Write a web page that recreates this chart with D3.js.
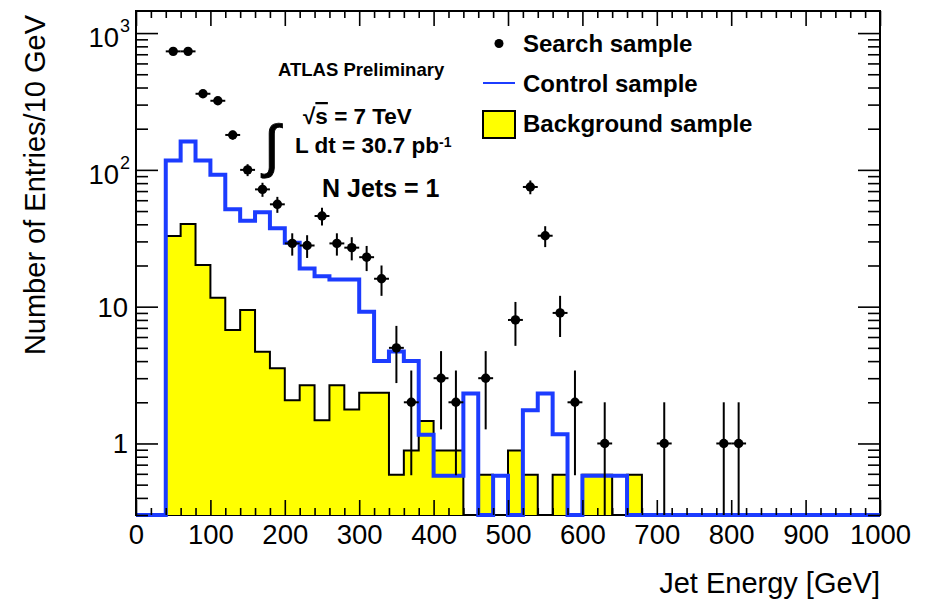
<!DOCTYPE html>
<html>
<head>
<meta charset="utf-8">
<script src="https://cdn.jsdelivr.net/npm/d3@7"></script>
<style>
  body { margin: 0; background: #fff; }
  text { font-family: "Liberation Sans", Arial, Helvetica, sans-serif; fill: #000; }
</style>
</head>
<body>
<svg id="chart" width="932" height="603"></svg>
<script>
// Lower edges (GeV) of the 20 GeV histogram bins that hold entries
const binLow = [40, 60, 80, 100, 120, 140, 160, 180, 200, 220, 240, 260, 280, 300, 320, 340,
                360, 380, 400, 420, 440, 460, 480, 500, 520, 540, 560, 580, 600, 620, 640, 660];
const binWidth = 20;

// Control sample (normalised), entries per bin
const controlSample = [117, 161, 117, 92, 51.5, 42.5, 49, 37.4, 29.3, 19, 16.7, 15.8, 15.8, 9.2, 4.0, 4.7,
                       4.0, 1.16, 0.58, 0.58, 2.32, 0, 0.58, 0, 1.75, 2.32, 1.17, 0, 0.58, 0.58, 0.58, 0];

// Background sample (normalised), entries per bin
const backgroundSample = [32.9, 40.2, 20.2, 11.6, 6.74, 9.44, 4.68, 3.54, 2.07, 2.67, 1.48, 2.67, 1.77, 2.35, 2.35, 0.59,
                          0.89, 1.46, 0.89, 0.89, 0, 0.59, 0, 0.89, 0.59, 0, 0.59, 0, 0.59, 0.59, 0, 0.59];

// Search sample: bin centres (GeV) and raw counts
const searchEnergy = [50, 70, 90, 110, 130, 150, 170, 190, 210, 230, 250, 270, 290, 310, 330, 350,
                      370, 410, 430, 470, 510, 530, 550, 570, 590, 630, 710, 790, 810];
const searchCount  = [735, 735, 360, 320, 180, 100, 72, 56, 29, 28, 46, 29, 27, 23, 16, 5,
                      2, 3, 2, 3, 8, 75, 33, 9, 2, 1, 1, 1, 1];

// Axis ticks
const xTicks = [0, 100, 200, 300, 400, 500, 600, 700, 800, 900, 1000];
const yTicks = [1, 10, 100, 1000];
const yTickBase = ["1", "10", "10", "10"];
const yTickExp  = ["", "", "2", "3"];

const plot = { left: 136, right: 880, top: 11, bottom: 515 };
const xDomain = [0, 1000];
const yDomain = [0.3, 1450];

const svg = d3.select("#chart");
const x = d3.scaleLinear().domain(xDomain).range([plot.left, plot.right]);
const y = d3.scaleLog().domain(yDomain).range([plot.bottom, plot.top]);
const yc = v => y(Math.max(v, yDomain[0]));

const blue = "#1c3cff";

// build step outline covering the whole axis range
function stepPoints(values) {
  const pts = [[xDomain[0], 0], [binLow[0], 0]];
  values.forEach((v, i) => {
    pts.push([binLow[i], v]);
    pts.push([binLow[i] + binWidth, v]);
  });
  const end = binLow[binLow.length - 1] + binWidth;
  pts.push([end, 0]);
  pts.push([xDomain[1], 0]);
  return pts;
}

// frame
svg.append("rect")
  .attr("x", plot.left).attr("y", plot.top)
  .attr("width", plot.right - plot.left).attr("height", plot.bottom - plot.top)
  .attr("fill", "none").attr("stroke", "#000").attr("stroke-width", 2);

// background sample: yellow filled histogram with black outline
const bgPts = stepPoints(backgroundSample);
svg.append("path")
  .attr("d", d3.area().x(d => x(d[0])).y0(y(yDomain[0])).y1(d => yc(d[1]))(bgPts))
  .attr("fill", "#ffff00").attr("stroke", "none");
svg.append("path")
  .attr("d", d3.line().x(d => x(d[0])).y(d => yc(d[1]))(bgPts))
  .attr("fill", "none").attr("stroke", "#000").attr("stroke-width", 2);

// control sample: thick blue step line
svg.append("path")
  .attr("d", d3.line().x(d => x(d[0])).y(d => yc(d[1]))(stepPoints(controlSample)))
  .attr("fill", "none").attr("stroke", blue).attr("stroke-width", 4)
  .attr("stroke-linejoin", "miter");

// axes with inward ticks on all four sides
const minorX = d3.range(0, 1001, 20).filter(v => v % 100 !== 0);
const minorY = [];
[0.1, 1, 10, 100, 1000].forEach(d => { for (let k = 2; k <= 9; k++) { const v = d * k; if (v >= yDomain[0] && v <= yDomain[1]) minorY.push(v); } });

function styleAxis(g) {
  g.select(".domain").remove();
  g.selectAll(".tick line").attr("stroke", "#000").attr("stroke-width", 1.6);
}

svg.append("g").attr("transform", `translate(0,${plot.bottom})`)
  .call(d3.axisBottom(x).tickValues(xTicks).tickSize(-15).tickPadding(9).tickFormat(d3.format("d")))
  .call(styleAxis)
  .selectAll("text").attr("font-size", 27.5).attr("font-family", "Liberation Sans, Arial, sans-serif");
svg.append("g").attr("transform", `translate(0,${plot.bottom})`)
  .call(d3.axisBottom(x).tickValues(minorX).tickSize(-7).tickFormat(""))
  .call(styleAxis);
svg.append("g").attr("transform", `translate(0,${plot.top})`)
  .call(d3.axisTop(x).tickValues(xTicks).tickSize(-15).tickFormat(""))
  .call(styleAxis);
svg.append("g").attr("transform", `translate(0,${plot.top})`)
  .call(d3.axisTop(x).tickValues(minorX).tickSize(-7).tickFormat(""))
  .call(styleAxis);

svg.append("g").attr("transform", `translate(${plot.left},0)`)
  .call(d3.axisLeft(y).tickValues(yTicks).tickSize(-22).tickFormat(""))
  .call(styleAxis);
svg.append("g").attr("transform", `translate(${plot.left},0)`)
  .call(d3.axisLeft(y).tickValues(minorY).tickSize(-12).tickFormat(""))
  .call(styleAxis);
svg.append("g").attr("transform", `translate(${plot.right},0)`)
  .call(d3.axisRight(y).tickValues(yTicks).tickSize(-22).tickFormat(""))
  .call(styleAxis);
svg.append("g").attr("transform", `translate(${plot.right},0)`)
  .call(d3.axisRight(y).tickValues(minorY).tickSize(-12).tickFormat(""))
  .call(styleAxis);

// y tick labels with powers of ten
const yLab = svg.append("g");
yTicks.forEach((v, i) => {
  const ty = y(v);
  if (yTickExp[i] === "") {
    yLab.append("text").attr("x", plot.left - 8).attr("y", ty).attr("dy", "0.36em")
      .attr("text-anchor", "end").attr("font-size", 27.5).text(yTickBase[i]);
  } else {
    yLab.append("text").attr("x", plot.left - 17).attr("y", ty + 14)
      .attr("text-anchor", "end").attr("font-size", 27.5).text(yTickBase[i]);
    yLab.append("text").attr("x", plot.left - 16).attr("y", ty - 1)
      .attr("text-anchor", "start").attr("font-size", 18).text(yTickExp[i]);
  }
});

// search sample: points with Poisson error bars
const pts = searchEnergy.map((e, i) => ({ e, n: searchCount[i] }));
const pg = svg.append("g");
pg.selectAll("line.v").data(pts).join("line").attr("class", "v")
  .attr("x1", d => x(d.e)).attr("x2", d => x(d.e))
  .attr("y1", d => yc(d.n - Math.sqrt(d.n))).attr("y2", d => yc(d.n + Math.sqrt(d.n)))
  .attr("stroke", "#000").attr("stroke-width", 2);
pg.selectAll("line.h").data(pts).join("line").attr("class", "h")
  .attr("x1", d => x(d.e - binWidth / 2)).attr("x2", d => x(d.e + binWidth / 2))
  .attr("y1", d => y(d.n)).attr("y2", d => y(d.n))
  .attr("stroke", "#000").attr("stroke-width", 2);
pg.selectAll("circle").data(pts).join("circle")
  .attr("cx", d => x(d.e)).attr("cy", d => y(d.n)).attr("r", 4.7).attr("fill", "#000");

// legend
const lg = svg.append("g");
lg.append("circle").attr("cx", 499).attr("cy", 43.5).attr("r", 4.5).attr("fill", "#000");
lg.append("line").attr("x1", 483).attr("x2", 515).attr("y1", 83).attr("y2", 83)
  .attr("stroke", blue).attr("stroke-width", 2);
lg.append("rect").attr("x", 483).attr("y", 111).attr("width", 32).attr("height", 27)
  .attr("fill", "#ffff00").attr("stroke", "#000").attr("stroke-width", 2);
[["Search sample", 52], ["Control sample", 92], ["Background sample", 132]].forEach(([t, by]) => {
  lg.append("text").attr("x", 523).attr("y", by).attr("font-size", 24).attr("font-weight", "bold").text(t);
});

// annotations
svg.append("text").attr("x", 278).attr("y", 76).attr("font-size", 18.5).attr("font-weight", "bold")
  .text("ATLAS Preliminary");
const sq = svg.append("text").attr("x", 303).attr("y", 124).attr("font-size", 22.5).attr("font-weight", "bold");
sq.append("tspan").text("√");
sq.append("tspan").attr("text-decoration", "overline").style("text-decoration", "overline").text("s");
sq.append("tspan").text(" = 7 TeV");
svg.append("text").attr("x", 264).attr("y", 166).attr("font-size", 58)
  .attr("font-family", "DejaVu Sans, sans-serif")
  .attr("stroke", "#000").attr("stroke-width", 0.8)
  .text("∫");
const lum = svg.append("text").attr("x", 295).attr("y", 153).attr("font-size", 22.5).attr("font-weight", "bold");
lum.append("tspan").text("L dt = 30.7 pb");
lum.append("tspan").attr("font-size", 14).attr("dy", -6).text("-1");
svg.append("text").attr("x", 322).attr("y", 197).attr("font-size", 25).attr("font-weight", "bold")
  .text("N Jets = 1");

// axis titles
svg.append("text").attr("x", plot.right).attr("y", 593).attr("text-anchor", "end")
  .attr("font-size", 29).text("Jet Energy [GeV]");
svg.append("text").attr("transform", "translate(45,15) rotate(-90)").attr("text-anchor", "end")
  .attr("font-size", 29).text("Number of Entries/10 GeV");
</script>
</body>
</html>
